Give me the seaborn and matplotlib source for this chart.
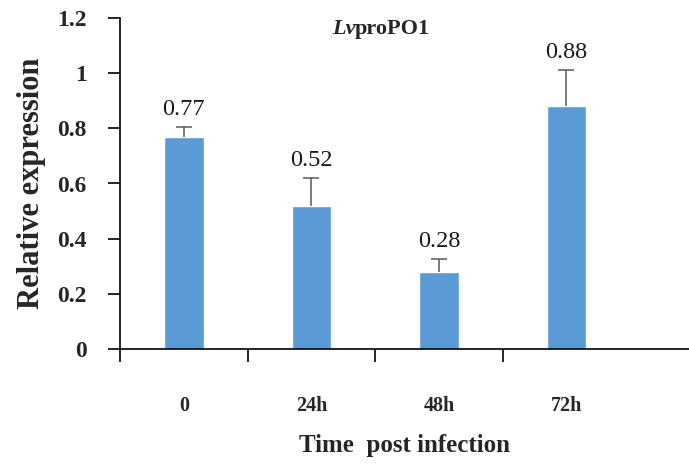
import matplotlib
matplotlib.use("Agg")
import matplotlib.pyplot as plt
import seaborn as sns
import numpy as np
import pandas as pd

categories = ["0", "24h", "48h", "72h"]
values = [0.77, 0.52, 0.28, 0.88]
errors = [0.035, 0.10, 0.045, 0.13]
yticks = [0, 0.2, 0.4, 0.6, 0.8, 1, 1.2]
ytick_labels = ["0", "0.2", "0.4", "0.6", "0.8", "1", "1.2"]

sns.set_theme(style="white")
plt.rcParams["font.family"] = ["Liberation Serif", "DejaVu Serif"]

df = pd.DataFrame({"time": categories, "expr": values})

fig = plt.figure(figsize=(6.89, 4.70), dpi=100)
ax = fig.add_axes([120 / 689, 1 - 349 / 470, 1 - 120 / 689, (349 - 18) / 470])

sns.barplot(data=df, x="time", y="expr", color="#5B9BD5", saturation=1,
            width=0.31, errorbar=None, ax=ax, zorder=2)

xpos = np.arange(len(categories))
eb = ax.errorbar(xpos, values, yerr=[np.zeros(len(errors)), errors], fmt="none",
                 ecolor="#595959", elinewidth=1.1, capsize=5.5, capthick=1.1, zorder=3)
# keep only the upper cap
caplines = eb[1]
if len(caplines) >= 2:
    caplines[0].set_visible(False)

for x, v, e in zip(xpos, values, errors):
    ax.annotate(f"{v:.2f}", xy=(x, v + e), xytext=(0, 5), textcoords="offset points",
                ha="center", va="bottom", fontsize=17.5, color="#1a1a1a")

ax.set_ylim(0, 1.2)
ax.set_xlim(-0.5, (689 - 118) / 128 - 0.5)
ax.set_yticks(yticks)
ax.set_yticklabels(ytick_labels, fontsize=17, fontweight="bold")
ax.set_xticks([-0.5, 0.5, 1.5, 2.5])
ax.set_xticklabels([])
ax.set_xticks(xpos, minor=True)
ax.set_xticklabels(categories, minor=True, fontsize=14.5, fontweight="bold")
ax.tick_params(axis="x", which="major", direction="out", length=9, width=1.2,
               color="black", bottom=True)
ax.tick_params(axis="x", which="minor", length=0, pad=34)
ax.tick_params(axis="y", direction="out", length=9, width=1.2, color="black",
               left=True, pad=15)

for s in ["top", "right"]:
    ax.spines[s].set_visible(False)
for s in ["left", "bottom"]:
    ax.spines[s].set_color("black")
    ax.spines[s].set_linewidth(1.2)

ax.set_xlabel("Time  post infection", fontsize=18, fontweight="bold", labelpad=13)
ax.set_ylabel("Relative expression", fontsize=22, fontweight="bold", labelpad=8)

# title: italic "Lv" + bold "proPO1"
fig.canvas.draw()
renderer = fig.canvas.get_renderer()
t1 = fig.text(0, 0, "Lv", fontsize=16, fontweight="bold", fontstyle="italic")
t2 = fig.text(0, 0, "proPO1", fontsize=16, fontweight="bold")
w1 = t1.get_window_extent(renderer).width / fig.bbox.width
w2 = t2.get_window_extent(renderer).width / fig.bbox.width
cx = 381 / 689
cy = 1 - 29 / 470
t1.set_position((cx - (w1 + w2) / 2, cy))
t1.set_va("center")
t2.set_position((cx - (w1 + w2) / 2 + w1, cy))
t2.set_va("center")

fig.savefig("out.png", dpi=100)
